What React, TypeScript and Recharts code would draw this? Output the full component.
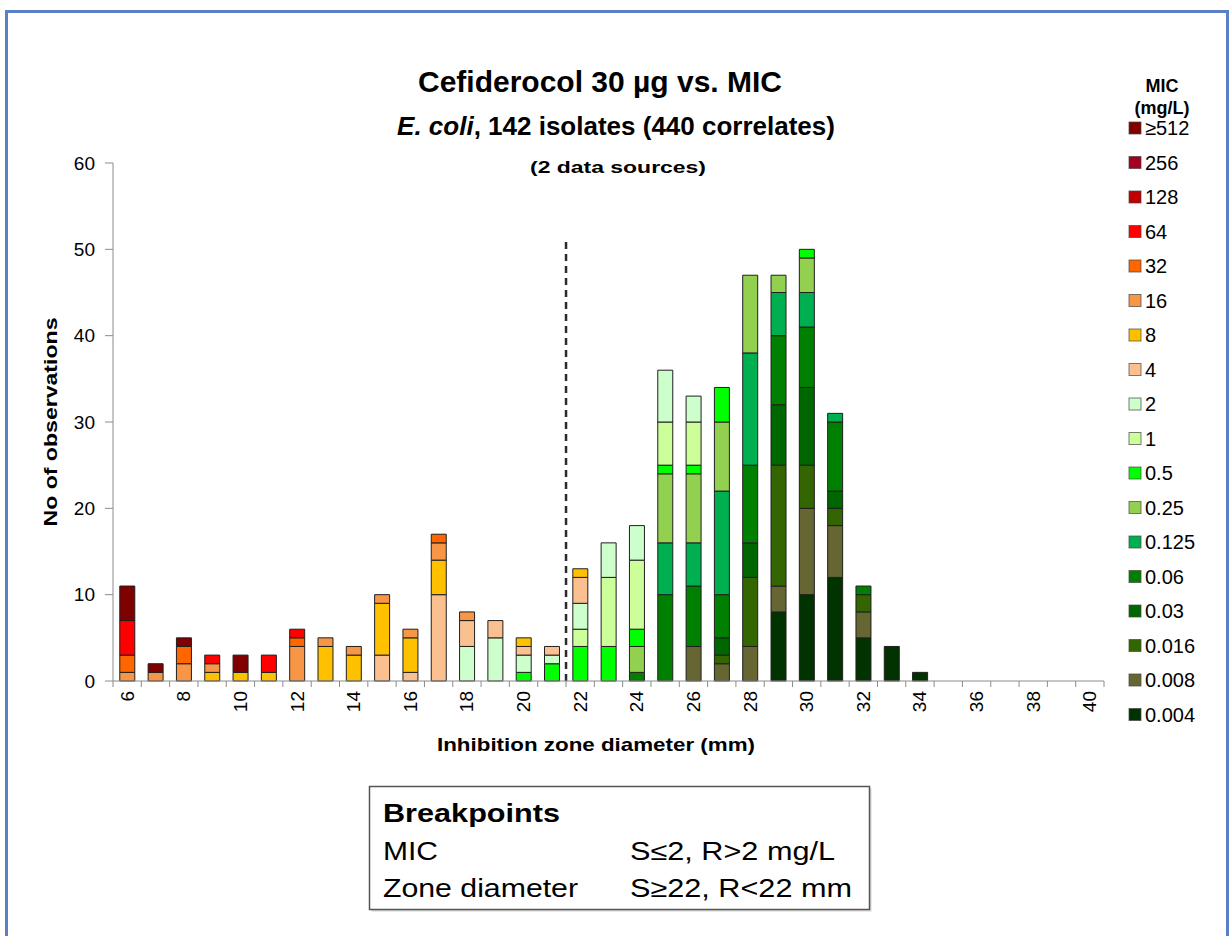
import { BarChart, Bar, XAxis, YAxis, ReferenceLine } from 'recharts';

const FONT = '"Liberation Sans", Arial, Helvetica, sans-serif';

// inhibition zone diameters (mm)
const zones = [
  '6', '7', '8', '9', '10', '11', '12', '13', '14', '15', '16', '17', '18', '19', '20', '21', '22', '23',
  '24', '25', '26', '27', '28', '29', '30', '31', '32', '33', '34', '35', '36', '37', '38', '39', '40',
];

// MIC classes, bottom of the stack first
const micLabels = ['0.004', '0.008', '0.016', '0.03', '0.06', '0.125', '0.25', '0.5', '1', '2', '4', '8', '16', '32', '64', '128', '256', '≥512'];
const micColors = [
  '#003300', '#666633', '#336600', '#006600', '#008000', '#00B050', '#92D050', '#00FF00', '#CCFF99',
  '#CCFFCC', '#FAC090', '#FFC000', '#F79646', '#FF6600', '#FF0000', '#C00000', '#A50021', '#800000',
];

// counts per zone:   6-10 | 11-15 | 16-20 | 21-25 | 26-30 | 31-35 | 36-40
const mic0004 = [0, 0, 0, 0, 0, 0, 0, 0, 0, 0, 0, 0, 0, 0, 0, 0, 0, 0, 0, 0, 0, 0, 0, 8, 10, 12, 5, 4, 1, 0, 0, 0, 0, 0, 0];
const mic0008 = [0, 0, 0, 0, 0, 0, 0, 0, 0, 0, 0, 0, 0, 0, 0, 0, 0, 0, 0, 0, 4, 2, 4, 3, 10, 6, 3, 0, 0, 0, 0, 0, 0, 0, 0];
const mic0016 = [0, 0, 0, 0, 0, 0, 0, 0, 0, 0, 0, 0, 0, 0, 0, 0, 0, 0, 0, 0, 0, 1, 8, 14, 5, 2, 2, 0, 0, 0, 0, 0, 0, 0, 0];
const mic003 = [0, 0, 0, 0, 0, 0, 0, 0, 0, 0, 0, 0, 0, 0, 0, 0, 0, 0, 0, 0, 0, 2, 4, 7, 9, 2, 0, 0, 0, 0, 0, 0, 0, 0, 0];
const mic006 = [0, 0, 0, 0, 0, 0, 0, 0, 0, 0, 0, 0, 0, 0, 0, 0, 0, 0, 1, 10, 7, 5, 9, 8, 7, 8, 1, 0, 0, 0, 0, 0, 0, 0, 0];
const mic0125 = [0, 0, 0, 0, 0, 0, 0, 0, 0, 0, 0, 0, 0, 0, 0, 0, 0, 0, 0, 6, 5, 12, 13, 5, 4, 1, 0, 0, 0, 0, 0, 0, 0, 0, 0];
const mic025 = [0, 0, 0, 0, 0, 0, 0, 0, 0, 0, 0, 0, 0, 0, 0, 0, 0, 0, 3, 8, 8, 8, 9, 2, 4, 0, 0, 0, 0, 0, 0, 0, 0, 0, 0];
const mic05 = [0, 0, 0, 0, 0, 0, 0, 0, 0, 0, 0, 0, 0, 0, 1, 2, 4, 4, 2, 1, 1, 4, 0, 0, 1, 0, 0, 0, 0, 0, 0, 0, 0, 0, 0];
const mic1 = [0, 0, 0, 0, 0, 0, 0, 0, 0, 0, 0, 0, 0, 0, 0, 0, 2, 8, 8, 5, 5, 0, 0, 0, 0, 0, 0, 0, 0, 0, 0, 0, 0, 0, 0];
const mic2 = [0, 0, 0, 0, 0, 0, 0, 0, 0, 0, 0, 0, 4, 5, 2, 1, 3, 4, 4, 6, 3, 0, 0, 0, 0, 0, 0, 0, 0, 0, 0, 0, 0, 0, 0];
const mic4 = [0, 0, 0, 0, 0, 0, 0, 0, 0, 3, 1, 10, 3, 2, 1, 1, 3, 0, 0, 0, 0, 0, 0, 0, 0, 0, 0, 0, 0, 0, 0, 0, 0, 0, 0];
const mic8 = [0, 0, 0, 1, 1, 1, 0, 4, 3, 6, 4, 4, 0, 0, 1, 0, 1, 0, 0, 0, 0, 0, 0, 0, 0, 0, 0, 0, 0, 0, 0, 0, 0, 0, 0];
const mic16 = [1, 1, 2, 1, 0, 0, 4, 1, 1, 1, 1, 2, 1, 0, 0, 0, 0, 0, 0, 0, 0, 0, 0, 0, 0, 0, 0, 0, 0, 0, 0, 0, 0, 0, 0];
const mic32 = [2, 0, 2, 0, 0, 0, 1, 0, 0, 0, 0, 1, 0, 0, 0, 0, 0, 0, 0, 0, 0, 0, 0, 0, 0, 0, 0, 0, 0, 0, 0, 0, 0, 0, 0];
const mic64 = [4, 0, 0, 1, 0, 2, 1, 0, 0, 0, 0, 0, 0, 0, 0, 0, 0, 0, 0, 0, 0, 0, 0, 0, 0, 0, 0, 0, 0, 0, 0, 0, 0, 0, 0];
const mic128 = [0, 0, 0, 0, 0, 0, 0, 0, 0, 0, 0, 0, 0, 0, 0, 0, 0, 0, 0, 0, 0, 0, 0, 0, 0, 0, 0, 0, 0, 0, 0, 0, 0, 0, 0];
const mic256 = [0, 0, 0, 0, 0, 0, 0, 0, 0, 0, 0, 0, 0, 0, 0, 0, 0, 0, 0, 0, 0, 0, 0, 0, 0, 0, 0, 0, 0, 0, 0, 0, 0, 0, 0];
const mic512 = [4, 1, 1, 0, 2, 0, 0, 0, 0, 0, 0, 0, 0, 0, 0, 0, 0, 0, 0, 0, 0, 0, 0, 0, 0, 0, 0, 0, 0, 0, 0, 0, 0, 0, 0];

const micCounts = [
  mic0004, mic0008, mic0016, mic003, mic006, mic0125, mic025, mic05, mic1,
  mic2, mic4, mic8, mic16, mic32, mic64, mic128, mic256, mic512,
];

const yTicks = [0, 10, 20, 30, 40, 50, 60];
const zoneBreakpoint = '22';

const data = zones.map((zone, i) => {
  const row: Record<string, string | number> = { zone };
  micCounts.forEach((arr, s) => {
    row['m' + s] = arr[i];
  });
  return row;
});

function ZoneTick(props: any) {
  const { x, y, payload } = props;
  const half = payload && payload.offset ? payload.offset : 14.15;
  const axisY = y - 10;
  const isLast = payload.value === zones[zones.length - 1];
  const showLabel = Number(payload.value) % 2 === 0;
  return (
    <g>
      <line x1={x - half} x2={x - half} y1={axisY} y2={axisY + 6} stroke="#8c8c8c" />
      {isLast && <line x1={x + half} x2={x + half} y1={axisY} y2={axisY + 6} stroke="#8c8c8c" />}
      {showLabel && (
        <text
          x={x}
          y={y}
          transform={`rotate(-90 ${x} ${y})`}
          textAnchor="end"
          dominantBaseline="central"
          fontSize={19}
          fill="#000"
          fontFamily={FONT}
        >
          {payload.value}
        </text>
      )}
    </g>
  );
}

export default function App() {
  const legendOrder = micLabels.map((label, i) => ({ label, color: micColors[i] })).reverse();
  return (
    <div style={{ position: 'absolute', left: 0, top: 0, width: 1231, height: 936, overflow: 'hidden', background: '#fff', fontFamily: FONT }}>
      <div style={{ position: 'absolute', left: 0, top: 0 }}>
        <BarChart width={1231} height={936} data={data} margin={{ top: 163, right: 127, bottom: 195, left: 53 }} barCategoryGap="24%">
          <XAxis
            dataKey="zone"
            interval={0}
            tick={<ZoneTick />}
            tickLine={false}
            tickSize={0}
            tickMargin={10}
            height={60}
            axisLine={{ stroke: '#8c8c8c' }}
          />
          <YAxis
            domain={[0, 60]}
            ticks={yTicks}
            width={60}
            tickSize={8}
            tickMargin={10}
            tickLine={{ stroke: '#8c8c8c' }}
            axisLine={{ stroke: '#8c8c8c' }}
            tick={{ fontSize: 19, fill: '#000', fontFamily: FONT }}
          />
          {micLabels.map((label, s) => (
            <Bar
              key={label}
              dataKey={'m' + s}
              name={label}
              stackId="mic"
              fill={micColors[s]}
              stroke="#1f1f1f"
              strokeWidth={1}
              isAnimationActive={false}
            />
          ))}
          <ReferenceLine
            segment={[{ x: zoneBreakpoint, y: 0 }, { x: zoneBreakpoint, y: 51 }]}
            position="start"
            stroke="#2b2b2b"
            strokeWidth={2.5}
            strokeDasharray="7 5"
          />
        </BarChart>
      </div>
      <svg width={1231} height={936} style={{ position: 'absolute', left: 0, top: 0, pointerEvents: 'none' }} fontFamily={FONT}>
        <path d="M6.5 936 V11.5 H1227.5 V936" fill="none" stroke="#5B80C8" strokeWidth={3} />
        <text x={600} y={92} textAnchor="middle" fontSize={30} fontWeight="bold">Cefiderocol 30 µg vs. MIC</text>
        <text x={616} y={135} textAnchor="middle" fontSize={26} fontWeight="bold">
          <tspan fontStyle="italic">E. coli</tspan>, 142 isolates (440 correlates)
        </text>
        <text x={618} y={173} textAnchor="middle" fontSize={17} fontWeight="bold" textLength={176} lengthAdjust="spacingAndGlyphs">(2 data sources)</text>
        <text x={57} y={422} textAnchor="middle" fontSize={19} fontWeight="bold" textLength={209} lengthAdjust="spacingAndGlyphs" transform="rotate(-90 57 422)">No of observations</text>
        <text x={596} y={751} textAnchor="middle" fontSize={19} fontWeight="bold" textLength={318} lengthAdjust="spacingAndGlyphs">Inhibition zone diameter (mm)</text>

        <text x={1162} y={92} textAnchor="middle" fontSize={18} fontWeight="bold">MIC</text>
        <text x={1162} y={114} textAnchor="middle" fontSize={18} fontWeight="bold">(mg/L)</text>
        {legendOrder.map((item, k) => (
          <g key={item.label}>
            <rect x={1129} y={122 + k * 34.5} width={12} height={12} fill={item.color} stroke="#444" strokeOpacity={0.7} />
            <text x={1145} y={135 + k * 34.5} fontSize={20} fill="#000">{item.label}</text>
          </g>
        ))}

        <rect x={371.5} y={788.5} width={500} height={123} fill="#bbb" opacity={0.6} />
        <rect x={369.5} y={786.5} width={500} height={123} fill="#fff" stroke="#555" strokeWidth={1.5} />
        <text x={383} y={822} fontSize={25} fontWeight="bold" textLength={177} lengthAdjust="spacingAndGlyphs">Breakpoints</text>
        <text x={383} y={860} fontSize={25} textLength={55} lengthAdjust="spacingAndGlyphs">MIC</text>
        <text x={630} y={860} fontSize={25} textLength={205} lengthAdjust="spacingAndGlyphs">S≤2, R&gt;2 mg/L</text>
        <text x={383} y={897} fontSize={25} textLength={195} lengthAdjust="spacingAndGlyphs">Zone diameter</text>
        <text x={630} y={897} fontSize={25} textLength={222} lengthAdjust="spacingAndGlyphs">S≥22, R&lt;22 mm</text>
      </svg>
    </div>
  );
}
